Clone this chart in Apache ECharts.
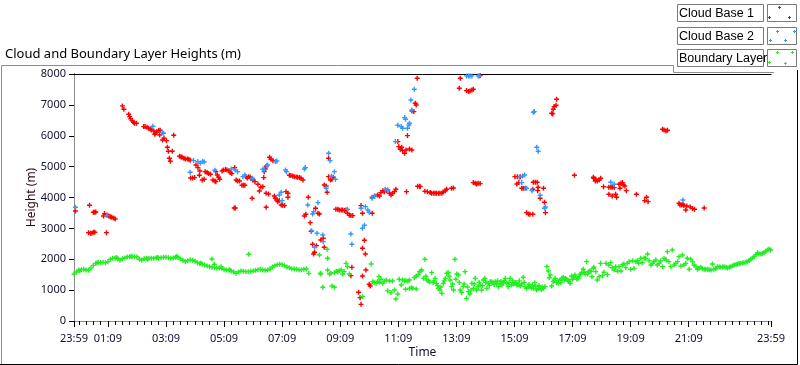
<!DOCTYPE html>
<html>
<head>
<meta charset="utf-8">
<script src="https://cdn.jsdelivr.net/npm/echarts@6/dist/echarts.min.js"></script>
<style>
  html, body { margin: 0; padding: 0; background: #fff; }
  #chart { width: 800px; height: 365px; }
</style>
</head>
<body>
<div id="chart"></div>
<script>
// minutes after 23:59, height in metres
const cloudBase1 = [
  [3,3564],[32,3748],[40,3521],[43,3521],[45,3532],[30,2862],[34,2840],[37,2840],[40,2873],[43,2873],[67,2862],
  [61,3402],[63,3478],[68,3434],[72,3402],[75,3380],[78,3359],[82,3337],[85,3305],
  [100,6966],[103,6858],[113,6696],[115,6620],[117,6545],[120,6491],[123,6437],[125,6404],[129,6404],
  [144,6296],[147,6296],[151,6275],[154,6242],[158,6220],[160,6188],[165,6156],[168,6080],[167,6048],[171,6134],[175,6167],[178,6178],[177,6026],
  [183,5864],[186,5918],[191,5842],[206,6015],[193,5627],[195,5497],[203,5497],[197,5270],[199,5173],
  [218,5335],[221,5320],[223,5302],[227,5270],[230,5249],[234,5249],[237,5238],[240,5205],
  [252,5054],[256,4968],[260,4860],[259,4720],[241,4633],[245,4633],[249,4644],[265,4568],[269,4590],
  [271,4838],[275,4806],[278,4774],[282,4752],[287,4568],[291,4536],[293,4514],[293,4838],[296,4730],[299,4655],[301,4590],
  [306,4860],[309,4892],[313,4903],[316,4892],[320,4870],[323,4806],[326,4774],[332,4968],[335,4568],[338,4536],[342,4536],
  [347,4396],[350,4396],[353,4396],[355,4676],[358,4633],[331,3661],[333,3661],
  [361,4676],[364,4655],[369,4568],[374,4514],[380,4428],[386,4330],[383,4212],[368,3974],[390,4352],[392,4644],[393,4838],[395,4925],[397,5000],
  [404,5302],[407,5238],[411,5194],[397,4136],[402,4115],[397,3683],[414,4050],[416,3974],[419,3920],[421,3866],[424,3900],
  [428,3758],[431,3748],[435,3737],[438,4190],[442,4136],[442,4007],
  [445,4720],[448,4709],[452,4698],[455,4676],[459,4666],[462,4655],[466,4644],[469,4622],[473,4568],
  [484,4007],[476,3402],[479,3456],[488,3186],[490,2905],[493,2484],[497,2225],[495,2171],[504,3488],[507,3467],[499,3650],
  [510,2624],[515,2678],[501,2440],[517,2387],[526,4676],[530,4568],[533,4590],[536,4655],[526,5270],[517,4406],[521,4374],[523,4169],
  [541,3618],[545,3618],[548,3596],[552,3596],[555,3596],[559,3575],[562,3596],[565,3488],[569,3424],[572,3413],[576,3413],
  [593,3737],[596,3488],[616,3488],[600,2614],[596,2354],[602,2171],[603,1652],[596,1458],[574,1738],[572,1469],
  [588,929],[591,756],[593,540],[610,1188],[612,1134],
  [616,4007],[621,4050],[627,4082],[631,4050],[634,4158],[638,4222],[641,4190],[645,4222],[648,4244],[652,4136],[655,4082],[658,4136],[662,4190],[665,4266],
  [687,4190],[710,4363],[714,4363],
  [671,5648],[674,5562],[677,5627],[679,5518],[683,5432],[686,5540],[693,5573],[698,5540],[669,5810],[689,6005],
  [698,6804],[702,6782],[705,7052],[707,6998],[709,7862],
  [798,7862],[796,7538],[811,7463],[815,7430],[818,7452],[822,7484],[825,7506],[839,7950],
  [715,4352],[725,4201],[730,4190],[736,4158],[739,4136],[743,4136],[746,4136],[749,4136],[753,4136],[756,4136],[760,4136],[763,4180],[767,4222],[770,4266],[780,4298],[784,4309],
  [825,4482],[829,4460],[832,4438],[835,4460],[839,4450],
  [911,4676],[916,4676],[922,4676],[915,4438],[919,4482],[925,4298],[928,4298],[932,4298],
  [949,4493],[953,4493],[957,4493],[948,4266],[959,4330],[958,4222],[970,4298],[963,3974],[972,3845],[974,3510],
  [935,3510],[939,3467],[942,3456],[948,3456],
  [987,6728],[989,6707],[990,6858],[992,6944],[996,6988],[997,7182],
  [1034,4720],[1073,4655],[1077,4536],
  [1074,4622],[1078,4590],[1081,4536],[1085,4568],[1088,4622],[1094,4352],
  [1105,4330],[1109,4330],[1112,4330],[1116,4320],[1126,4428],[1130,4460],[1133,4482],[1135,4406],[1138,4374],[1128,4298],[1141,4222],
  [1105,4104],[1112,4050],[1119,4104],[1121,4007],[1162,4104],[1183,4007],[1179,3900],[1186,3866],
  [1216,6210],[1219,6188],[1223,6156],[1226,6178],
  [1250,3812],[1252,3758],[1255,3758],[1258,3780],[1260,3737],[1266,3726],[1264,3596],[1273,3694],[1278,3640],[1282,3618],[1302,3661]
];

const cloudBase2 = [
  [3,3683],[68,3413],[163,6307],[182,6100],[185,6080],
  [247,5195],[256,5162],[261,5108],[266,5173],[269,5151],[240,4817],[291,4882],[325,4925],[333,4892],[338,4838],[349,4676],[353,4730],
  [369,4622],[390,4914],[393,4892],[398,5033],[400,5054],[416,5162],[419,5184],[424,4082],[428,4169],[430,3899],[437,4892],[439,4838],
  [476,4925],[478,4968],[483,3758],[493,3467],[495,3542],[504,3834],
  [491,2926],[502,2840],[514,2786],[515,2570],[497,2387],
  [526,5432],[529,5194],[538,4838],[540,4590],[532,4698],[521,4298],
  [565,3618],[593,3650],[602,3704],[607,3596],[610,3521],[572,2819],[574,2484],[596,3002],[600,3100],
  [616,3974],[621,4050],[643,4266],[648,4222],
  [664,5810],[669,6340],[676,6296],[679,6242],[692,6350],[693,6404],[689,6242],[683,6588],[685,6534],
  [696,7160],[698,6836],[703,7506],
  [811,7938],[815,7938],[818,7938],[822,7938],[835,7938],[838,7938],
  [949,6761],[951,6782],[956,5627],[959,5497],
  [920,4655],[927,4698],[931,4730],[925,4482],[935,4298],[946,4222],[963,4071],[974,3693],[972,3650],
  [1109,4493],[1116,4428],[1258,3920]
];

const boundaryLayer = [
  [0,1523],[5,1588],[10,1652],[12,1620],[15,1663],[20,1674],[25,1652],[30,1645],[35,1717],[40,1803],[45,1868],[48,1880],[50,1900],[55,1895],[60,1900],[65,1890],
  [70,1922],[75,1998],[80,2030],[85,2030],[88,2060],[90,2020],[95,1976],[100,2020],[105,2041],[110,2074],[115,2084],[118,2100],[120,2084],[125,2084],[130,2074],
  [135,1998],[140,1976],[145,2020],[150,2030],[152,2000],[155,2030],[160,2030],[165,2030],[170,2041],[172,2060],[175,2041],[180,2052],[185,2063],[190,2063],
  [195,2052],[200,2030],[205,2041],[210,2063],[212,2090],[215,2063],[220,2009],[225,1966],[230,1922],[235,1955],[240,1976],[245,1966],[250,1933],[255,1890],
  [260,1858],[262,1880],[265,1836],[270,1814],[275,1782],[280,1760],[285,1739],[285,2009],[290,1728],[290,1836],[295,1717],[300,1717],[304,1760],[305,1706],
  [310,1674],[315,1652],[320,1642],[322,1660],[325,1620],[330,1588],[335,1544],[340,1588],[345,1620],[350,1609],[355,1598],
  [360,1598],[361,2160],[365,1609],[370,1620],[375,1642],[380,1663],[385,1674],[390,1652],[395,1642],[400,1652],[405,1685],[410,1750],[415,1793],
  [420,1825],[425,1836],[430,1825],[435,1793],[440,1750],[445,1728],[450,1696],[455,1685],[460,1674],[465,1652],[470,1663],[475,1674],[480,1685],[485,1544],
  [507,2138],[510,1523],[514,1091],[509,1545],[523,2322],[524,2030],[524,1652],[528,1523],[531,1544],[533,1134],[538,1091],[538,1566],[542,1610],
  [545,1598],[548,1630],[552,1652],[555,1523],[558,1600],[562,1868],[565,1760],[569,1523],
  [596,788],[614,1847],[617,1274],[620,1250],[624,1220],[627,1280],[630,1436],[631,1253],[634,1350],[638,1220],[641,1290],[645,1328],[648,983],
  [652,1296],[655,918],[658,1296],[662,1004],[665,713],[669,875],[672,1350],[676,1166],[679,1328],[683,1300],[685,1026],[686,1307],[690,1290],
  [693,1328],[693,1058],[697,1080],[700,1058],[703,1404],[707,1037],[707,1458],[711,1500],[714,1598],[717,1620],
  [718,1652],[722,1382],[725,1998],[729,1328],[732,1307],[739,1566],[742,1242],[746,1382],[749,1220],[753,1058],[756,1004],[760,896],[763,1220],
  [767,1382],[770,1544],[773,1566],[777,1328],[780,1112],[784,1004],[787,1998],[791,1523],[794,1490],[798,1004],[801,918],[804,1112],[808,1598],
  [811,734],[815,950],[818,875],[822,1220],[825,1058],[829,1382],[832,1004],[835,1112],[839,1166],[842,1004],[846,1328],[849,1382],[853,1058],
  [856,1220],[860,1274],[863,1274],[866,1240],[870,1274],[873,1200],[877,1112],[880,1220],[884,1166],[887,1250],[891,1382],[894,1220],[897,1112],
  [901,1382],[904,1166],[908,1199],[911,1230],[915,1166],[918,1180],[922,1134],[925,1200],[928,1415],[932,1112],[935,1058],[938,1100],[942,1112],
  [945,1080],[949,1058],[952,1242],[956,1004],[959,1050],[963,1058],[966,1020],[970,1058],[973,1112],[977,1760],[980,1620],[984,1490],[987,1134],
  [990,1274],[994,1382],[997,1242],[1001,1220],[1004,1328],[1008,1382],[1011,1415],[1015,1380],[1018,1350],[1021,1300],[1025,1220],[1028,1458],
  [1032,1436],[1035,1490],[1039,1350],[1042,1382],[1046,1523],[1049,1560],[1052,1674],[1056,1523],[1059,1922],[1063,1598],[1066,1630],[1070,1436],[1073,1706],
  [727,1450],[735,1260],[744,1300],[751,1150],[758,1100],[765,1300],[775,1450],[782,1200],[789,1350],[796,1250],[806,1200],[813,1100],[820,1000],
  [827,1200],[837,1250],[844,1150],[851,1250],[858,1150],[868,1180],[875,1300],[882,1280],[889,1300],[899,1250],[906,1300],[913,1250],[920,1300],
  [930,1250],[940,1180],[947,1150],[954,1120],[961,1150],[968,1100],[982,1400],[992,1320],[1000,1300],[1006,1250],[1013,1330],[1023,1280],
  [1030,1350],[1037,1420],[1044,1450],[1054,1580],[1061,1520],[1068,1600],
  [1074,1739],[1078,1598],[1081,1328],[1085,1436],[1088,1868],[1092,1469],[1095,1577],[1099,1868],[1102,1501],[1105,1814],[1109,1890],[1112,1728],
  [1116,1652],[1119,1760],[1123,1609],[1126,1760],[1130,1620],[1133,1814],[1136,1847],[1140,1728],[1143,1868],[1147,1922],[1150,1674],[1154,1955],
  [1157,1706],[1161,1922],[1164,1955],[1167,1868],[1171,2030],[1174,1890],[1178,2030],[1181,2030],[1185,2171],[1188,1955],[1192,1814],[1195,1868],
  [1198,1922],[1202,1976],[1205,1814],[1209,1868],[1212,1944],[1216,1760],[1219,2030],[1223,1976],[1226,2246],[1229,1922],[1233,1760],[1236,2300],
  [1240,1814],[1243,1868],[1247,1922],[1250,2084],[1254,1782],[1257,2138],[1260,1814],[1264,1868],[1267,2030],[1271,1674],[1274,1998],[1278,1922],
  [1281,1814],[1285,1760],[1288,1674],[1291,1706],[1295,1739],[1298,1696],[1302,1674],[1305,1680],[1309,1674],[1312,1660],[1316,1652],[1319,1847],
  [1322,1674],[1326,1700],[1329,1760],[1333,1750],[1336,1739],[1340,1745],[1343,1760],[1347,1740],[1350,1717],[1354,1740],[1357,1760],[1361,1790],
  [1364,1814],[1368,1830],[1371,1847],[1374,1860],[1377,1868],[1381,1880],[1384,1890],[1388,1905],[1391,1922],[1395,1960],[1398,1998],[1402,2040],
  [1405,2084],[1409,2150],[1412,2214],[1415,2171],[1419,2171],[1422,2190],[1426,2214],[1429,2260],[1433,2300],[1436,2333],[1439,2300]
];

const timeLabelTicks = [0, 70, 190, 310, 430, 550, 670, 790, 910, 1030, 1150, 1270, 1440];
const heightTicks = [0, 1000, 2000, 3000, 4000, 5000, 6000, 7000, 8000];
const legendNames = ['Cloud Base 1', 'Cloud Base 2', 'Boundary Layer'];
const colors = ['#ff0000', '#3399ff', '#22ee22'];

const minorTicks = [];
for (let m = 10; m <= 1440; m += 15) minorTicks.push(m);

function pad(n) { return n < 10 ? '0' + n : '' + n; }
function clock(v) {
  const m = (v + 1439) % 1440;
  return pad(Math.floor(m / 60)) + ':' + pad(m % 60);
}

const plus = 'path://M1.8,0H3.2V1.8H5V3.2H3.2V5H1.8V3.2H0V1.8H1.8Z';
const font = 'Noto Sans';

// legend boxes drawn like the instrument panel
const swatchMarks = [
  [[12, 3], [2, 13], [22, 13]],
  [[10, 4], [3, 13], [18, 13], [27, 4]],
  [[10, 3], [25, 3], [2, 13], [18, 14]]
];
const graphics = [];
legendNames.forEach((name, i) => {
  const top = 4 + Math.round(i * 22.5);
  graphics.push({
    type: 'rect', shape: { x: 677.5, y: top + 0.5, width: 86, height: 17 },
    style: { fill: '#fff', stroke: '#7a7a7a', lineWidth: 1 }
  });
  graphics.push({
    type: 'text', x: 679, y: top + 9.5,
    style: { text: name, fontSize: 12.5, fontFamily: 'Liberation Sans', fill: '#000', verticalAlign: 'middle' }
  });
  graphics.push({
    type: 'rect', shape: { x: 767.5, y: top + 0.5, width: 29, height: 17 },
    style: { fill: '#fff', stroke: '#7a7a7a', lineWidth: 1 }
  });
  swatchMarks[i].forEach(p => {
    graphics.push({ type: 'rect', shape: { x: 767 + p[0] - 1, y: top + p[1], width: 3, height: 1 }, style: { fill: colors[i] } });
    graphics.push({ type: 'rect', shape: { x: 767 + p[0], y: top + p[1] - 1, width: 1, height: 3 }, style: { fill: colors[i] } });
  });
});
// panel frame
graphics.push({ type: 'polyline', shape: { points: [[1.5, 364], [1.5, 65.5], [673.5, 65.5], [673.5, 72.5], [774, 72.5]] }, style: { stroke: '#8c8c8c', fill: null, lineWidth: 1 } });
graphics.push({ type: 'polyline', shape: { points: [[0, 364.5], [797.5, 364.5], [797.5, 70]] }, style: { stroke: '#000', fill: null, lineWidth: 1 } });

const chart = echarts.init(document.getElementById('chart'));
chart.setOption({
  animation: false,
  backgroundColor: '#fff',
  textStyle: { fontFamily: font },
  title: {
    text: 'Cloud and Boundary Layer Heights (m)',
    left: 0, top: 43,
    textStyle: { fontSize: 13, fontWeight: 'normal', color: '#000', fontFamily: font }
  },
  graphic: graphics,
  grid: { left: 74, right: 29, top: 74, bottom: 44 },
  xAxis: [
    {
      type: 'value', min: 0, max: 1440, position: 'bottom',
      name: 'Time', nameLocation: 'middle', nameGap: 26, nameMoveOverlap: false,
      nameTextStyle: { fontSize: 12, color: '#101030', fontFamily: font },
      axisLine: { lineStyle: { color: '#8c8c8c', width: 1 } },
      axisTick: { customValues: timeLabelTicks, length: 6, lineStyle: { color: '#000' } },
      axisLabel: { customValues: timeLabelTicks, formatter: clock, margin: 12, fontSize: 11, color: '#101030', fontFamily: font, hideOverlap: false, showMaxLabel: true },
      splitLine: { show: false }
    },
    {
      type: 'value', min: 0, max: 1440, position: 'bottom',
      axisLine: { show: false },
      axisTick: { customValues: minorTicks, length: 4, lineStyle: { color: '#000' } },
      axisLabel: { show: false },
      splitLine: { show: false }
    },
    {
      type: 'value', min: 0, max: 1440, position: 'top',
      axisLine: { lineStyle: { color: '#000', width: 1 } },
      axisTick: { show: false }, axisLabel: { show: false }, splitLine: { show: false }
    }
  ],
  yAxis: [
    {
      type: 'value', min: 0, max: 8000, interval: 1000, position: 'left',
      name: 'Height (m)', nameLocation: 'middle', nameGap: 36, nameMoveOverlap: false,
      nameTextStyle: { fontSize: 12, color: '#2a0a14', fontFamily: font },
      axisLine: { show: true, lineStyle: { color: '#000', width: 1 } },
      axisTick: { show: true, length: 5, lineStyle: { color: '#000' } },
      axisLabel: { margin: 8, fontSize: 11, color: '#101030', fontFamily: font,
        formatter: v => heightTicks.indexOf(v) >= 0 ? String(v) : '' },
      splitLine: { show: false }
    },
    {
      type: 'value', min: 0, max: 8000, position: 'right',
      axisLine: { show: true, lineStyle: { color: '#8c8c8c', width: 1 } },
      axisTick: { show: false }, axisLabel: { show: false }, splitLine: { show: false }
    }
  ],
  series: legendNames.map((name, i) => ({
    name: name,
    type: 'scatter',
    xAxisIndex: 0, yAxisIndex: 0,
    data: [cloudBase1, cloudBase2, boundaryLayer][i],
    symbol: plus,
    symbolSize: 5,
    itemStyle: { color: colors[i], opacity: 1 },
    emphasis: { disabled: true },
    silent: true
  }))
});
</script>
</body>
</html>
